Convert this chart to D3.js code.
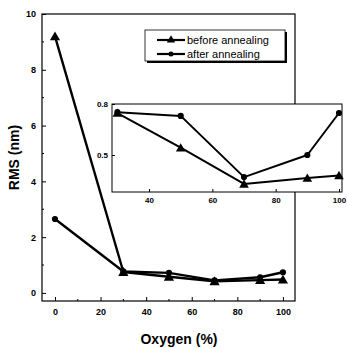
<!DOCTYPE html>
<html><head><meta charset="utf-8">
<script src="https://cdn.jsdelivr.net/npm/d3@7"></script>
<style>body{margin:0;background:#fff}svg{display:block}text{font-family:"Liberation Sans",Arial,sans-serif;fill:#000}</style>
</head><body>
<script>
const oxygen = [0, 30, 50, 70, 90, 100];
const beforeRMS = [9.2, 0.75, 0.58, 0.42, 0.46, 0.48];
const afterRMS = [2.65, 0.77, 0.72, 0.45, 0.56, 0.74];
const insetOxygen = [30, 50, 70, 90, 100];
const insetBefore = [0.747, 0.543, 0.33, 0.365, 0.38];
const insetAfter = [0.752, 0.73, 0.37, 0.5, 0.747];
const xTicks = [0, 20, 40, 60, 80, 100];
const yTicks = [0, 2, 4, 6, 8, 10];
const insetXTicks = [40, 60, 80, 100];
const insetYTicks = [0.8, 0.5];
const seriesNames = ["before annealing", "after annealing"];

const W = 347, H = 348;
const svg = d3.select("body").append("svg").attr("width", W).attr("height", H);

// main
const m = {l: 42, t: 14, r: 295, b: 301};
const x = d3.scaleLinear().domain([-5.7, 105.3]).range([m.l, m.r]);
const y = d3.scaleLinear().domain([-0.29, 10]).range([m.b, m.t]);

svg.append("rect").attr("x", m.l).attr("y", m.t).attr("width", m.r - m.l).attr("height", m.b - m.t)
  .attr("fill", "none").attr("stroke", "#000").attr("stroke-width", 1.2);

const xAxis = svg.append("g").attr("transform", `translate(0,${m.b})`)
  .call(d3.axisBottom(x).tickValues(xTicks).tickSize(-4).tickPadding(8).tickFormat(d3.format("d")));
const yAxis = svg.append("g").attr("transform", `translate(${m.l},0)`)
  .call(d3.axisLeft(y).tickValues(yTicks).tickSize(-4).tickPadding(6).tickFormat(d3.format("d")));
[xAxis, yAxis].forEach(g => {
  g.select(".domain").remove();
  g.selectAll("text").attr("font-size", 9).attr("font-weight", "bold").attr("font-family", "Liberation Sans, Arial, sans-serif");
});
// minor ticks
svg.append("g").selectAll("line").data(d3.range(10, 100, 20)).join("line")
  .attr("x1", d => x(d)).attr("x2", d => x(d)).attr("y1", m.b).attr("y2", m.b - 2).attr("stroke", "#000");
svg.append("g").selectAll("line").data(d3.range(1, 10, 2)).join("line")
  .attr("x1", m.l).attr("x2", m.l + 2).attr("y1", d => y(d)).attr("y2", d => y(d)).attr("stroke", "#000");

svg.append("text").attr("x", 179).attr("y", 344).attr("text-anchor", "middle")
  .attr("font-size", 14).attr("font-weight", "bold").text("Oxygen (%)");
svg.append("text").attr("transform", "translate(19,157.5) rotate(-90)").attr("text-anchor", "middle")
  .attr("font-size", 14).attr("font-weight", "bold").text("RMS (nm)");

const tri = d3.symbol().type(d3.symbolTriangle);
function drawSeries(g, xs, ys, sx, sy, kind, lw, sz) {
  const line = d3.line().x((d, i) => sx(xs[i])).y(d => sy(d));
  g.append("path").datum(ys).attr("d", line).attr("fill", "none").attr("stroke", "#000").attr("stroke-width", lw).attr("stroke-linejoin", "round");
  if (kind === "tri") {
    g.append("g").selectAll("path").data(ys).join("path")
      .attr("d", tri.size(sz)()).attr("transform", (d, i) => `translate(${sx(xs[i])},${sy(d) + 1})`).attr("fill", "#000");
  } else {
    g.append("g").selectAll("circle").data(ys).join("circle")
      .attr("cx", (d, i) => sx(xs[i])).attr("cy", d => sy(d)).attr("r", Math.sqrt(sz / Math.PI)).attr("fill", "#000");
  }
}
const mainG = svg.append("g");
drawSeries(mainG, oxygen, beforeRMS, x, y, "tri", 2.4, 45);
drawSeries(mainG, oxygen, afterRMS, x, y, "circ", 2.4, 30);

// legend
const lg = svg.append("g");
lg.append("rect").attr("x", 147).attr("y", 32).attr("width", 140).attr("height", 31).attr("fill", "#000");
lg.append("rect").attr("x", 145).attr("y", 30).attr("width", 140).attr("height", 31).attr("fill", "#fff").attr("stroke", "#000").attr("stroke-width", 0.8);
seriesNames.forEach((nm, i) => {
  const yy = 40 + i * 14;
  lg.append("line").attr("x1", 157).attr("x2", 185).attr("y1", yy).attr("y2", yy).attr("stroke", "#000").attr("stroke-width", 2.2);
  if (i === 0) lg.append("path").attr("d", tri.size(30)()).attr("transform", `translate(171,${yy})`);
  else lg.append("circle").attr("cx", 171).attr("cy", yy).attr("r", 2.5);
  lg.append("text").attr("x", 187).attr("y", yy + 4).attr("font-size", 11).text(nm);
});

// inset
const ins = {l: 112, t: 104, r: 342, b: 192};
const ix = d3.scaleLinear().domain([28.3, 100 + (ins.r - 339) / 3.167]).range([ins.l, ins.r]);
const iy = d3.scaleLinear().domain([0.8 - (ins.b - 104) * 0.3 / 51, 0.8]).range([ins.b, ins.t]);
svg.append("rect").attr("x", ins.l).attr("y", ins.t).attr("width", ins.r - ins.l).attr("height", ins.b - ins.t)
  .attr("fill", "#fff").attr("stroke", "#000").attr("stroke-width", 1);
const ixA = svg.append("g").attr("transform", `translate(0,${ins.b})`)
  .call(d3.axisBottom(ix).tickValues(insetXTicks).tickSize(-3).tickPadding(5).tickFormat(d3.format("d")));
const iyA = svg.append("g").attr("transform", `translate(${ins.l},0)`)
  .call(d3.axisLeft(iy).tickValues(insetYTicks).tickSize(-3).tickPadding(4).tickFormat(d3.format(".1f")));
[ixA, iyA].forEach(g => {
  g.select(".domain").remove();
  g.selectAll("text").attr("font-size", 8).attr("font-weight", "bold").attr("font-family", "Liberation Sans, Arial, sans-serif");
});
const insG = svg.append("g");
drawSeries(insG, insetOxygen, insetBefore, ix, iy, "tri", 2, 40);
drawSeries(insG, insetOxygen, insetAfter, ix, iy, "circ", 2, 30);
</script>
</body></html>
